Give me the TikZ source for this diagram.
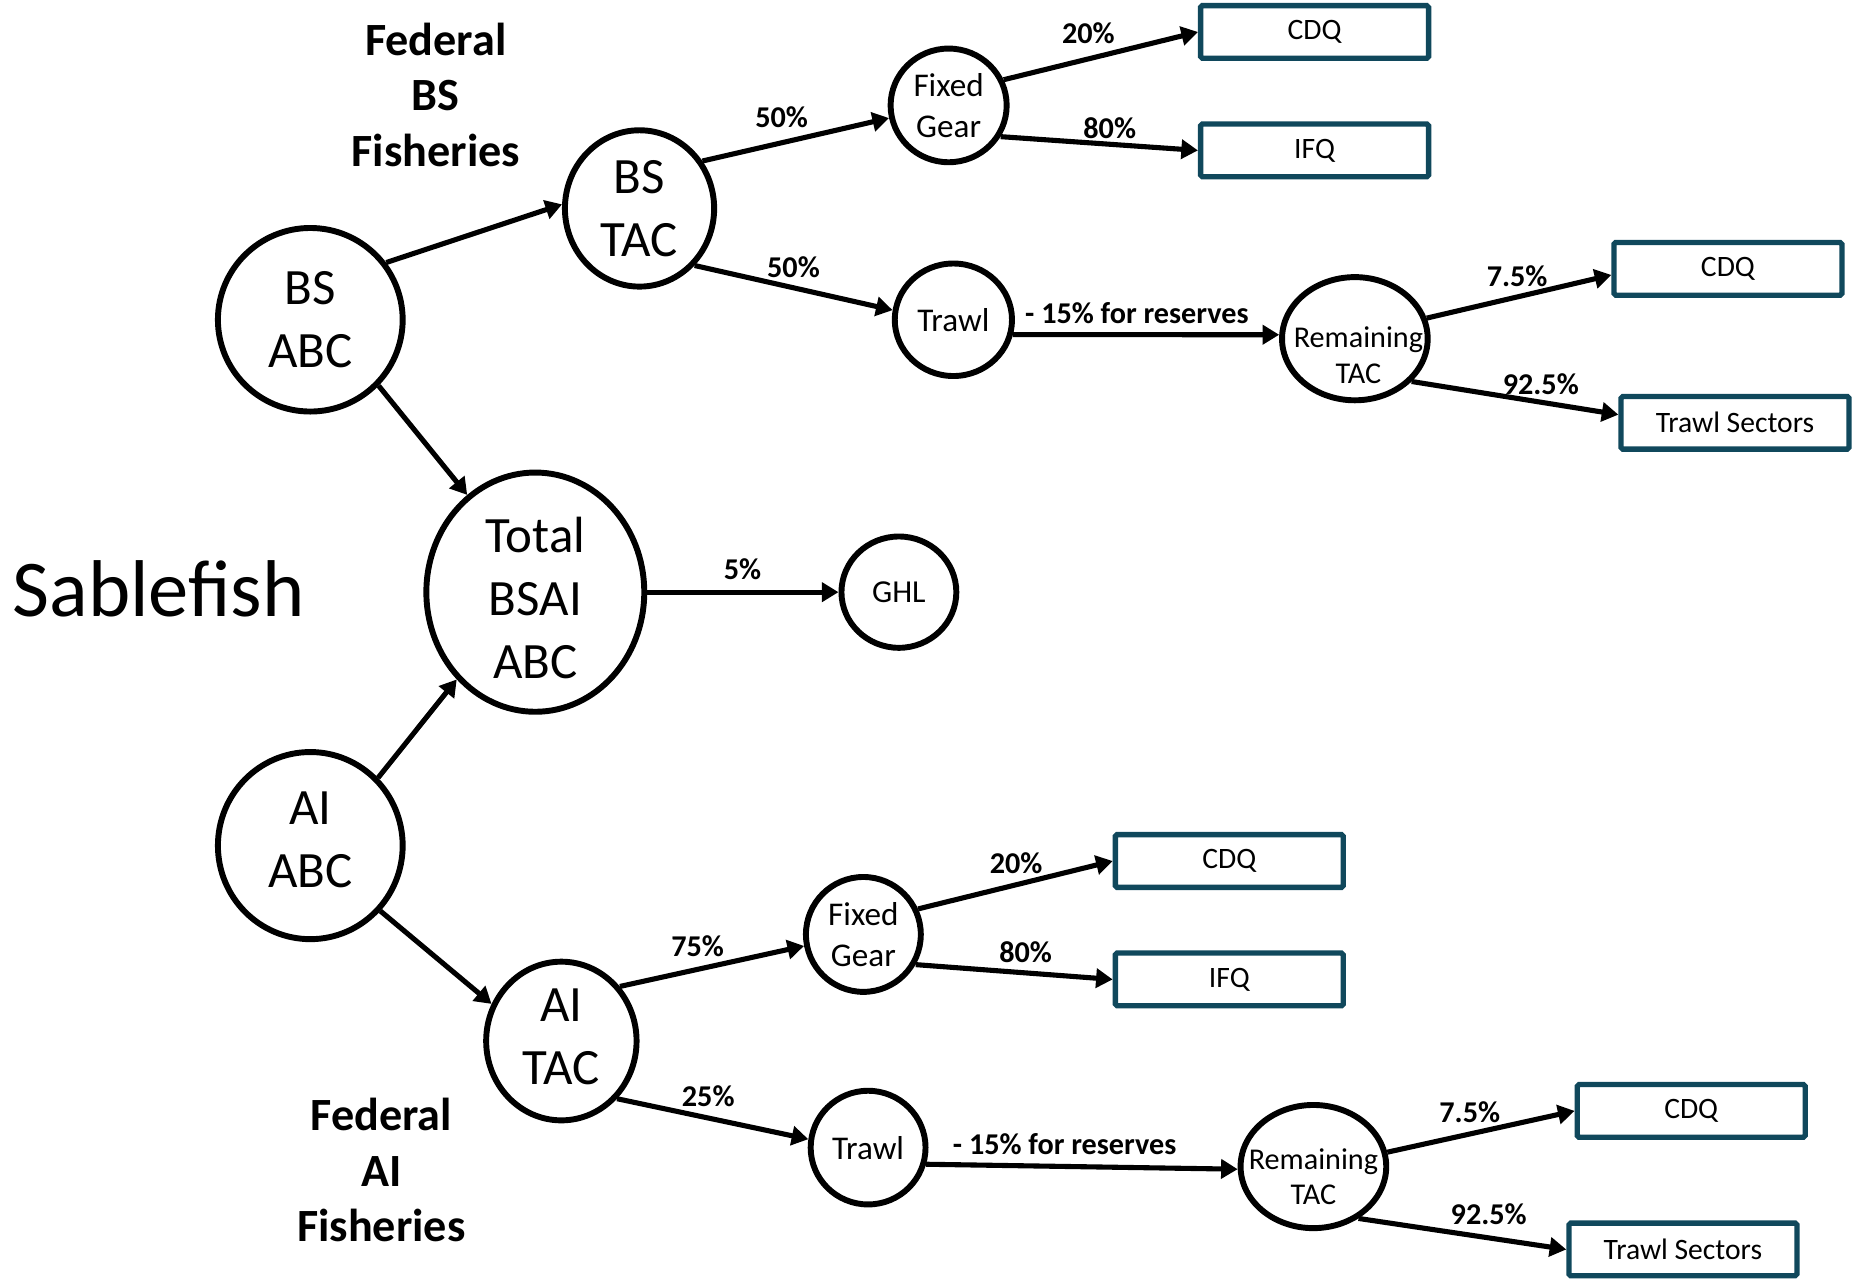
\documentclass[tikz,border=0pt]{standalone}
\usepackage{fontspec}
\setmainfont{Carlito}
\usetikzlibrary{arrows.meta,shapes.geometric}
\definecolor{boxc}{RGB}{16,72,92}
\begin{document}
\begin{tikzpicture}[x=1pt,y=-1pt,
 circ/.style={draw, line width=5pt, ellipse, inner sep=0pt, align=center},
 bx/.style={draw=boxc, line width=4.5pt, rounded corners=1.5pt, minimum width=192.5pt, minimum height=44.5pt, inner sep=0pt, font=\fontsize{25}{30}\selectfont},
 arr/.style={line width=4.3pt, -{Triangle[length=14pt,width=16pt]}},
 lab/.style={font=\bfseries\fontsize{25.5}{30}\selectfont, inner sep=0pt},
 big/.style={font=\fontsize{43}{53}\selectfont},
 mid/.style={font=\fontsize{28}{35}\selectfont},
 sml/.style={font=\fontsize{25.5}{30}\selectfont, inner sep=-16pt},
 ttl/.style={font=\bfseries\fontsize{39}{47}\selectfont, align=center, inner sep=0pt}
]
\useasboundingbox (0,0) rectangle (1568,1083);

% titles
\node[ttl] (t1) at (368,80) {Federal\\BS\\Fisheries};
\node[ttl] (t2) at (322,988) {Federal\\AI\\Fisheries};
\node[font=\fontsize{68}{80}\selectfont, inner sep=0pt] (sf) at (134,497) {Sablefish};

% circles
\node[circ, big, minimum width=156pt, minimum height=155pt] (bsabc) at (262,270) {BS\\ABC};
\node[circ, big, minimum width=126pt, minimum height=132pt] (bstac) at (540,176) {BS\\TAC};
\node[circ, mid, minimum width=98pt, minimum height=96pt] (fg1) at (801,89) {Fixed\\Gear};
\node[circ, mid, minimum width=99pt, minimum height=95pt] (tr1) at (805,270) {Trawl};
\node[circ, sml, minimum width=123pt, minimum height=104pt] (rem1) at (1144,286) {\rule{0pt}{45pt}\hspace*{6pt}Remaining\\\hspace*{6pt}TAC};
\node[circ, big, inner sep=-5pt, minimum width=184pt, minimum height=202pt] (total) at (452,500) {\rule{0pt}{40pt}Total\\BSAI\\ABC};
\node[circ, font=\fontsize{27}{32}\selectfont, minimum width=97pt, minimum height=94pt] (ghl) at (759,500) {GHL};
\node[circ, big, minimum width=156pt, minimum height=158pt] (aiabc) at (262,714) {AI\\ABC\rule[-10pt]{0pt}{10pt}};
\node[circ, big, minimum width=127pt, minimum height=134pt] (aitac) at (474,879) {AI\\TAC\rule[-8pt]{0pt}{8pt}};
\node[circ, mid, minimum width=97pt, minimum height=97pt] (fg2) at (729,789) {Fixed\\Gear};
\node[circ, mid, minimum width=97pt, minimum height=96pt] (tr2) at (733,969) {Trawl};
\node[circ, sml, minimum width=123pt, minimum height=104pt] (rem2) at (1109,985) {\rule{0pt}{35pt}Remaining\\TAC};

% boxes
\node[bx] (cdq1) at (1110,27) {CDQ};
\node[bx] (ifq1) at (1110,127) {IFQ};
\node[bx] (cdq2) at (1459,227) {CDQ};
\node[bx] (ts1) at (1465,357) {Trawl Sectors};
\node[bx] (cdq3) at (1038,727) {CDQ};
\node[bx] (ifq3) at (1038,827) {IFQ};
\node[bx] (cdq4) at (1428,938) {CDQ};
\node[bx] (ts2) at (1421,1055) {Trawl Sectors};

% connectors
\draw[arr] (bsabc.37.6) -- (bstac.177.4);
\draw[arr] (bsabc.-44.5) -- (total.125.5);
\draw[arr] (aiabc.45.5) -- (total.228);
\draw[arr] (aiabc.-43.5) -- (aitac.152);
\draw[arr] (bstac.37.7) -- (fg1.192);
\draw[arr] (bstac.-46) -- (tr1.171);
\draw[arr] (fg1.25) -- (cdq1.west);
\draw[arr] (fg1.-31.5) -- (ifq1.west);
\draw[arr] (tr1.-14) -- (rem1.177);
\draw[arr] (rem1.16.4) -- (cdq2.183.5);
\draw[arr] (rem1.-37.8) -- (ts1.176);
\draw[arr] (total.east) -- (ghl.west);
\draw[arr] (aitac.43) -- (fg2.191);
\draw[arr] (aitac.-46) -- (tr2.172.5);
\draw[arr] (fg2.25) -- (cdq3.west);
\draw[arr] (fg2.-30.6) -- (ifq3.west);
\draw[arr] (tr2.-16.4) -- (rem2.182);
\draw[arr] (rem2.11) -- (cdq4.west);
\draw[arr] (rem2.-49) -- (ts2.west);

% labels
\node[lab] (l1) at (660,99) {50\%};
\node[lab] (l2) at (670,226) {50\%};
\node[lab] (l3) at (919,28) {20\%};
\node[lab] (l4) at (937,108) {80\%};
\node[lab] (l5) at (960,264) {- 15\% for reserves};
\node[lab] (l6) at (1281,233) {7.5\%};
\node[lab] (l7) at (1301,324) {92.5\%};
\node[lab] (l8) at (627,481) {5\%};
\node[lab] (l9) at (589,799) {75\%};
\node[lab] (l10) at (598,926) {25\%};
\node[lab] (l11) at (858,729) {20\%};
\node[lab] (l12) at (866,804) {80\%};
\node[lab] (l13) at (899,966) {- 15\% for reserves};
\node[lab] (l14) at (1241,939) {7.5\%};
\node[lab] (l15) at (1257,1025) {92.5\%};
\end{tikzpicture}
\end{document}
